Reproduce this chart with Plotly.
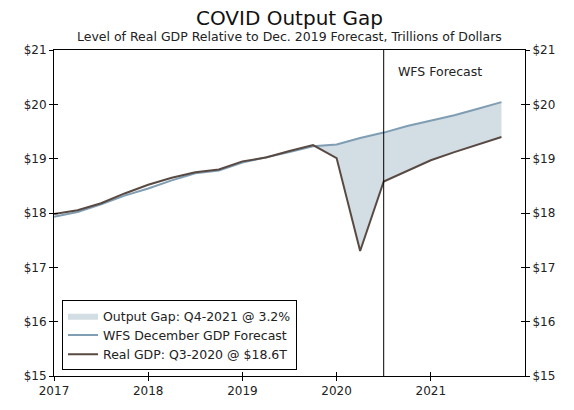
import plotly.graph_objects as go

# Quarterly periods, Q1-2017 through Q4-2021 (as fractional years)
quarters = [2017.0, 2017.25, 2017.5, 2017.75,
            2018.0, 2018.25, 2018.5, 2018.75,
            2019.0, 2019.25, 2019.5, 2019.75,
            2020.0, 2020.25, 2020.5, 2020.75,
            2021.0, 2021.25, 2021.5, 2021.75]

# Real GDP (actual through Q3-2020, WFS forecast after), trillions of dollars
real_gdp = [17.98, 18.05, 18.18, 18.36,
            18.52, 18.65, 18.75, 18.80,
            18.95, 19.02, 19.14, 19.25,
            19.01, 17.30, 18.58, 18.78,
            18.97, 19.12, 19.26, 19.40]

# WFS December 2019 GDP forecast path, trillions of dollars
dec_forecast = [17.93, 18.02, 18.16, 18.32,
                18.45, 18.60, 18.73, 18.78,
                18.93, 19.02, 19.12, 19.23,
                19.26, 19.38, 19.48, 19.60,
                19.70, 19.80, 19.92, 20.04]

year_ticks = [2017, 2018, 2019, 2020, 2021]
forecast_start = 2020.5
gap_start = 2019.75

GAP_FILL = "#d3dde4"
FORECAST_BLUE = "#7f9db3"
GDP_BROWN = "#584a42"
FONT = "DejaVu Sans"
TEXT = "#222222"

i0 = quarters.index(gap_start)

fig = go.Figure()

# Lower edge of the shaded gap (invisible)
fig.add_trace(go.Scatter(
    x=quarters[i0:], y=real_gdp[i0:], mode="lines",
    line=dict(width=0, color=GAP_FILL), showlegend=False, hoverinfo="skip"))

# Shaded output gap between the forecast and real GDP
fig.add_trace(go.Scatter(
    x=quarters[i0:], y=dec_forecast[i0:], mode="lines",
    line=dict(width=0, color=GAP_FILL), fill="tonexty", fillcolor=GAP_FILL,
    name="Output Gap: Q4-2021 @ 3.2%", hoverinfo="skip"))

fig.add_trace(go.Scatter(
    x=quarters, y=dec_forecast, mode="lines",
    line=dict(width=2, color=FORECAST_BLUE),
    name="WFS December GDP Forecast"))

fig.add_trace(go.Scatter(
    x=quarters, y=real_gdp, mode="lines",
    line=dict(width=2, color=GDP_BROWN),
    name="Real GDP: Q3-2020 @ $18.6T"))

# Invisible copies bound to the overlay axes that carry the inner tick marks
for xa, ya in [("x2", "y"), ("x", "y2"), ("x", "y3"), ("x", "y4")]:
    fig.add_trace(go.Scatter(x=quarters, y=real_gdp, xaxis=xa, yaxis=ya,
                             mode="lines", line=dict(width=0), opacity=0,
                             showlegend=False, hoverinfo="skip"))

fig.add_vline(x=forecast_start, line=dict(color="black", width=1))

fig.add_annotation(x=2021.1, y=20.6, text="WFS Forecast", showarrow=False,
                   font=dict(family=FONT, size=12.5, color=TEXT))

# Title and subtitle
fig.add_annotation(xref="paper", yref="paper", x=0.5, y=1.0985, yanchor="middle",
                   text="COVID Output Gap", showarrow=False,
                   font=dict(family=FONT, size=20, color="#111111"))
fig.add_annotation(xref="paper", yref="paper", x=0.5, y=1.0418, yanchor="middle",
                   text="Level of Real GDP Relative to Dec. 2019 Forecast, Trillions of Dollars",
                   showarrow=False, font=dict(family=FONT, size=12.5, color=TEXT))

yrange = [15, 21]
xrange = [2017, 2022]
tickfont = dict(family=FONT, size=12, color=TEXT)
inner = dict(ticks="inside", ticklen=4, tickcolor="black", showticklabels=False,
             showline=False, showgrid=False, zeroline=False)

fig.update_layout(
    width=574, height=410,
    margin=dict(l=54, r=49, t=50, b=25),
    paper_bgcolor="white", plot_bgcolor="white",
    font=dict(family=FONT, color=TEXT),
    xaxis=dict(range=xrange, tickvals=year_ticks, ticks="outside", ticklen=4,
               tickcolor="black", showline=True, linecolor="black", linewidth=1,
               mirror=True, showgrid=False, zeroline=False, tickfont=tickfont),
    xaxis2=dict(range=xrange, tickvals=year_ticks, overlaying="x", side="bottom",
                anchor="y", **inner),
    yaxis=dict(range=yrange, dtick=1, tickprefix="$", ticks="outside", ticklen=4,
               tickcolor="black", showline=True, linecolor="black", linewidth=1,
               showgrid=False, zeroline=False, tickfont=tickfont),
    yaxis2=dict(range=yrange, dtick=1, tickprefix="$", overlaying="y", side="right",
                anchor="x", ticks="outside", ticklen=4, tickcolor="black",
                showline=True, linecolor="black", linewidth=1, showgrid=False,
                zeroline=False, tickfont=tickfont),
    yaxis3=dict(range=yrange, dtick=1, overlaying="y", side="left", anchor="x", **inner),
    yaxis4=dict(range=yrange, dtick=1, overlaying="y", side="right", anchor="x", **inner),
    legend=dict(x=0.017, y=0.018, xanchor="left", yanchor="bottom",
                traceorder="normal",
                bgcolor="white", bordercolor="black", borderwidth=1,
                font=dict(family=FONT, size=12.5, color=TEXT),
                itemwidth=30, tracegroupgap=0),
    showlegend=True,
)

fig.write_html("out.html")
